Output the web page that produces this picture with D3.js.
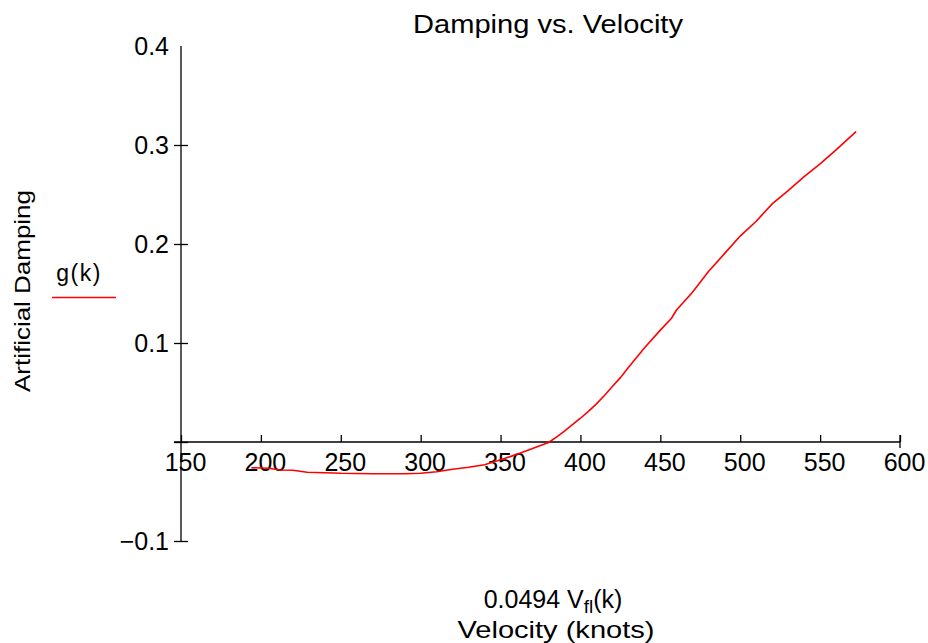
<!DOCTYPE html>
<html>
<head>
<meta charset="utf-8">
<script src="https://cdn.jsdelivr.net/npm/d3@7"></script>
<style>
  body { margin: 0; background: #fff; }
  text { font-family: "Liberation Sans", Arial, sans-serif; fill: #000; }
</style>
</head>
<body>
<svg id="chart" width="928" height="643"></svg>
<script>
// data
const velocity = [194, 205, 212, 220, 229, 240, 250, 260, 270, 280, 290, 300, 310, 320, 330, 340,
  350, 360, 370, 380, 385, 390, 395, 400, 405, 410, 415, 420, 425, 430, 435, 440, 450, 457,
  460, 470, 480, 490, 500, 510, 520, 530, 540, 550, 560, 572.5];
const damping = [-0.026, -0.0265, -0.0283, -0.0285, -0.0306, -0.031, -0.0316, -0.0318, -0.032,
  -0.032, -0.032, -0.0315, -0.030, -0.0275, -0.0255, -0.023, -0.018, -0.0125, -0.0065, -0.0005,
  0.005, 0.011, 0.0175, 0.024, 0.031, 0.0385, 0.047, 0.056, 0.065, 0.0752, 0.085, 0.095, 0.113,
  0.125, 0.133, 0.151, 0.172, 0.19, 0.208, 0.223, 0.2405, 0.254, 0.268, 0.281, 0.295, 0.3135];
const xTicks = [150, 200, 250, 300, 350, 400, 450, 500, 550, 600];
const yTicks = [0.4, 0.3, 0.2, 0.1, 0, -0.1];

const svg = d3.select("#chart");

const x = d3.scaleLinear().domain([150, 600]).range([181, 900]);
const y = d3.scaleLinear().domain([-0.1, 0.4]).range([541, 46]);

// x axis, ticks pointing up, sitting on y = 0
const xAxis = svg.append("g")
    .attr("transform", `translate(0,${y(0)})`)
    .call(d3.axisBottom(x)
        .tickValues(xTicks)
        .tickSizeInner(-7)
        .tickSizeOuter(0)
        .tickPadding(11)
        .tickFormat(d3.format("d")));
xAxis.select(".domain").remove();
xAxis.selectAll(".tick line").attr("stroke", "#000").attr("stroke-width", 1.3);
xAxis.selectAll(".tick text")
    .attr("x", 4)
    .attr("font-family", "Liberation Sans, Arial, sans-serif")
    .attr("font-size", 25)
    .attr("fill", "#000");
xAxis.append("line")
    .attr("x1", x(150) - 7)
    .attr("x2", x(600))
    .attr("stroke", "#000")
    .attr("stroke-width", 1.3);
// end cap at 600
xAxis.append("line")
    .attr("x1", x(600)).attr("x2", x(600))
    .attr("y1", -7).attr("y2", 6)
    .attr("stroke", "#000")
    .attr("stroke-width", 1.3);

// y axis, ticks crossing the line
const yAxis = svg.append("g")
    .attr("transform", `translate(${x(150)},0)`)
    .call(d3.axisLeft(y)
        .tickValues(yTicks)
        .tickSizeInner(7)
        .tickSizeOuter(0)
        .tickPadding(5)
        .tickFormat(d => d === 0 ? "" : d3.format(".1f")(d)));
yAxis.select(".domain").remove();
yAxis.append("line")
    .attr("y1", y(0.4))
    .attr("y2", y(-0.1))
    .attr("stroke", "#000")
    .attr("stroke-width", 1.3);
yAxis.selectAll(".tick line")
    .attr("x1", 7)
    .attr("x2", -7)
    .attr("stroke", "#000")
    .attr("stroke-width", 1.3)
    .attr("display", d => d === 0.4 ? "none" : null);
yAxis.selectAll(".tick text")
    .attr("font-family", "Liberation Sans, Arial, sans-serif")
    .attr("font-size", 25)
    .attr("fill", "#000");

// the curve
const line = d3.line()
    .x((d, i) => x(velocity[i]))
    .y((d, i) => y(damping[i]));

svg.append("path")
    .datum(damping)
    .attr("d", line)
    .attr("fill", "none")
    .attr("stroke", "#ff0000")
    .attr("stroke-width", 1.6);

// title
svg.append("text")
    .attr("x", 548)
    .attr("y", 33)
    .attr("text-anchor", "middle")
    .attr("font-size", 25)
    .attr("textLength", 270)
    .attr("lengthAdjust", "spacingAndGlyphs")
    .text("Damping vs. Velocity");

// y axis title
svg.append("text")
    .attr("transform", "translate(30,291) rotate(-90)")
    .attr("text-anchor", "middle")
    .attr("font-size", 22)
    .attr("textLength", 202)
    .attr("lengthAdjust", "spacingAndGlyphs")
    .text("Artificial Damping");

// legend
svg.append("text")
    .attr("x", 79)
    .attr("y", 281)
    .attr("text-anchor", "middle")
    .attr("font-size", 23)
    .attr("letter-spacing", 1.5)
    .text("g(k)");
svg.append("line")
    .attr("x1", 52).attr("x2", 116)
    .attr("y1", 297.5).attr("y2", 297.5)
    .attr("stroke", "#ff0000")
    .attr("stroke-width", 1.5);

// x axis title, two lines
const xt = svg.append("text")
    .attr("x", 553)
    .attr("y", 608)
    .attr("text-anchor", "middle")
    .attr("font-size", 25);
xt.append("tspan").text("0.0494 V");
xt.append("tspan").attr("font-size", 19).attr("dy", 5).text("fl");
xt.append("tspan").attr("dy", -5).text("(k)");

svg.append("text")
    .attr("x", 556)
    .attr("y", 638)
    .attr("text-anchor", "middle")
    .attr("font-size", 24)
    .attr("textLength", 197)
    .attr("lengthAdjust", "spacingAndGlyphs")
    .text("Velocity (knots)");
</script>
</body>
</html>
